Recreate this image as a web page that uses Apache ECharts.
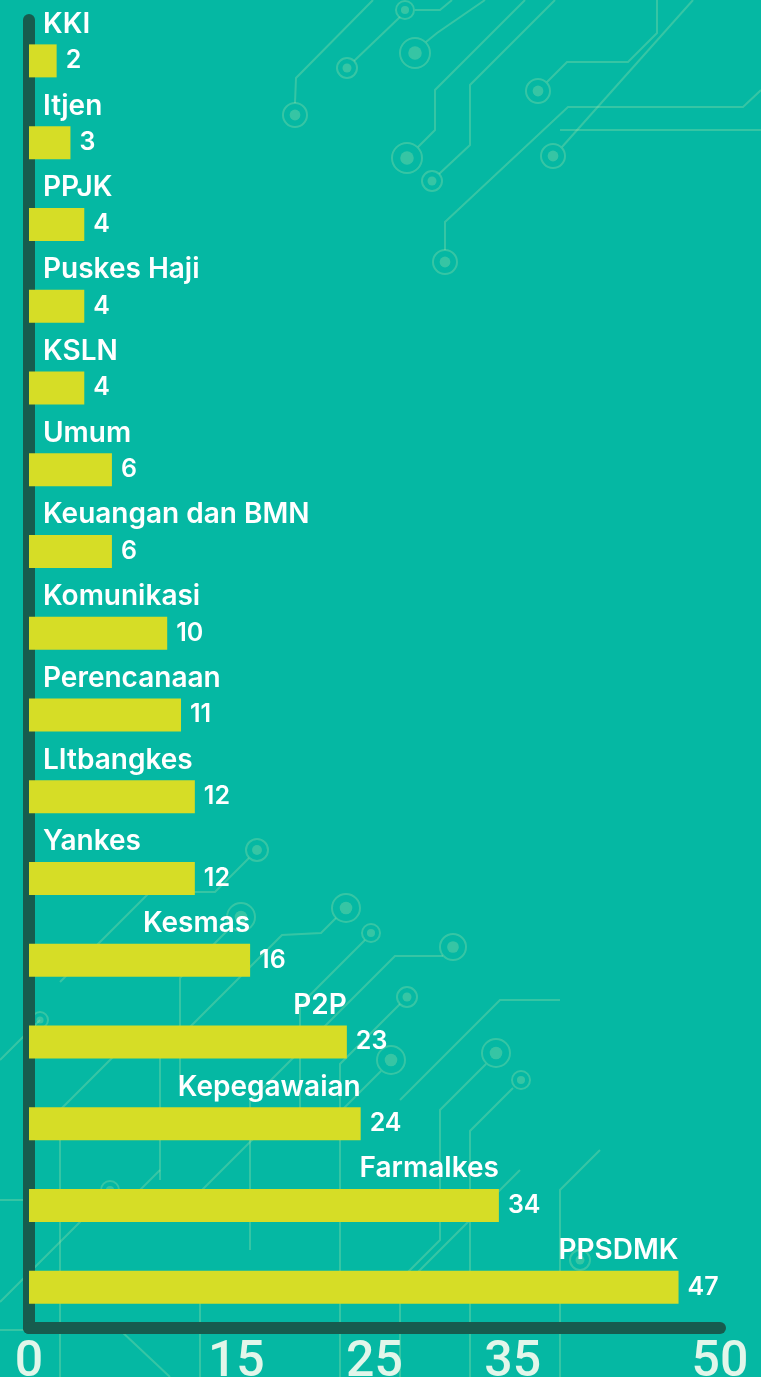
<!DOCTYPE html>
<html>
<head>
<meta charset="utf-8">
<script src="https://cdn.jsdelivr.net/npm/echarts@6/dist/echarts.min.js"></script>
<style>
  html, body { margin: 0; padding: 0; background: #05b8a3; }
  #chart { width: 761px; height: 1377px; }
</style>
</head>
<body>
<div id="chart"></div>
<script>
// data (top to bottom)
const units = ['KKI', 'Itjen', 'PPJK', 'Puskes Haji', 'KSLN', 'Umum', 'Keuangan dan BMN',
  'Komunikasi', 'Perencanaan', 'LItbangkes', 'Yankes', 'Kesmas', 'P2P', 'Kepegawaian',
  'Farmalkes', 'PPSDMK']
const counts = [2, 3, 4, 4, 4, 6, 6, 10, 11, 12, 12, 16, 23, 24, 34, 47]
const tickLabels = [0, 15, 25, 35, 50]

const chart = echarts.init(document.getElementById('chart'))

const textFont = 'Inter, Roboto, sans-serif'
const tickFont = 'Roboto, sans-serif'
const decoColor = 'rgba(170, 228, 170, 0.3)'

// circuit-board texture in the background (pure decoration)
const decoPaths = [
  [[295, 103], [296, 78], [373, 0]],
  [[354, 61], [400, 17]],
  [[415, 10], [440, 10], [452, 0]],
  [[426, 42], [437, 33], [485, 0]],
  [[418, 147], [435, 130], [435, 90], [465, 60], [525, 0]],
  [[439, 174], [470, 145], [470, 85], [555, 0]],
  [[547, 82], [567, 62], [628, 62], [657, 33], [657, 0]],
  [[562, 147], [693, 0]],
  [[445, 250], [445, 222], [568, 107], [743, 107], [761, 90]],
  [[560, 130], [761, 130]],
  [[249, 858], [215, 892], [150, 892], [60, 982]],
  [[230, 928], [180, 978], [180, 1080]],
  [[336, 918], [321, 933], [282, 935], [160, 1057], [160, 1180]],
  [[365, 940], [300, 1005], [300, 1110]],
  [[443, 956], [395, 956], [250, 1101], [250, 1250]],
  [[400, 1004], [340, 1064], [340, 1377]],
  [[381, 1071], [330, 1122], [270, 1122], [200, 1192]],
  [[486, 1064], [440, 1110], [440, 1240], [380, 1300]],
  [[513, 1088], [470, 1131], [470, 1377]],
  [[560, 1000], [500, 1000], [400, 1100]],
  [[120, 1050], [60, 1110], [60, 1377]],
  [[0, 1060], [40, 1020]],
  [[104, 1198], [0, 1302]],
  [[0, 1200], [130, 1200], [160, 1170]],
  [[200, 1300], [200, 1377]],
  [[0, 1330], [120, 1330], [170, 1377]],
  [[520, 1170], [400, 1290], [400, 1377]],
  [[600, 1150], [560, 1190], [560, 1377]],
]
const decoRings = [
  [295, 115, 12], [347, 68, 10], [405, 10, 9], [415, 53, 15], [407, 158, 15],
  [432, 181, 10], [538, 91, 12], [553, 156, 12], [445, 262, 12],
  [257, 850, 11], [241, 917, 14], [346, 908, 14], [371, 933, 9], [453, 947, 13],
  [407, 997, 10], [391, 1060, 14], [496, 1053, 14], [521, 1080, 9], [130, 1045, 10],
  [40, 1020, 8], [110, 1190, 9], [200, 1290, 9], [580, 1260, 10],
]
const decoration = [
  ...decoPaths.map((pts) => ({
    type: 'polyline',
    silent: true,
    z: -10,
    shape: { points: pts },
    style: { fill: null, stroke: decoColor, lineWidth: 2 },
  })),
  ...decoRings.flatMap(([cx, cy, r]) => [
    { type: 'circle', silent: true, z: -10, shape: { cx, cy, r },
      style: { fill: null, stroke: decoColor, lineWidth: 2 } },
    { type: 'circle', silent: true, z: -10, shape: { cx, cy, r: r * 0.45 },
      style: { fill: decoColor } },
  ]),
]

// long bars carry their name right-aligned to the bar end, short ones left-aligned
const nameData = counts.map((v) => ({
  value: v,
  label: v > 15
    ? { position: ['100%', -6], align: 'right' }
    : { position: [14, -6], align: 'left' },
}))

chart.setOption({
  backgroundColor: '#05b8a3',
  animation: false,
  graphic: decoration,
  grid: { left: 29, right: 41, top: 20, bottom: 49, outerBoundsMode: 'none' },
  xAxis: {
    type: 'value',
    min: 0,
    max: 50,
    interval: 5,
    splitLine: { show: false },
    axisTick: { show: false },
    axisLine: { show: true, lineStyle: { color: '#175c4e', width: 12, cap: 'round' } },
    axisLabel: {
      margin: 10,
      color: '#e2f6ea',
      fontFamily: tickFont,
      fontSize: 50,
      fontWeight: 500,
      verticalAlign: 'top',
      formatter: (v) => (tickLabels.includes(v) ? String(v) : ''),
    },
  },
  yAxis: {
    type: 'category',
    data: units,
    inverse: true,
    offset: 6,
    axisTick: { show: false },
    axisLabel: { show: false },
    axisLine: { show: true, lineStyle: { color: '#175c4e', width: 12, cap: 'round' } },
  },
  series: [
    {
      type: 'bar',
      data: counts,
      barWidth: 33,
      itemStyle: { color: '#d6dd26' },
      label: {
        show: true,
        position: 'right',
        distance: 9,
        color: '#ffffff',
        fontFamily: textFont,
        fontSize: 25,
        fontWeight: 600,
      },
      z: 3,
    },
    {
      // transparent twin of the bars, only used to write the unit names above them
      type: 'bar',
      data: nameData,
      barWidth: 33,
      barGap: '-100%',
      itemStyle: { color: 'rgba(0,0,0,0)' },
      silent: true,
      label: {
        show: true,
        verticalAlign: 'bottom',
        color: '#ffffff',
        fontFamily: textFont,
        fontSize: 28,
        fontWeight: 600,
        formatter: (p) => units[p.dataIndex],
      },
      z: 4,
    },
  ],
})
</script>
</body>
</html>
